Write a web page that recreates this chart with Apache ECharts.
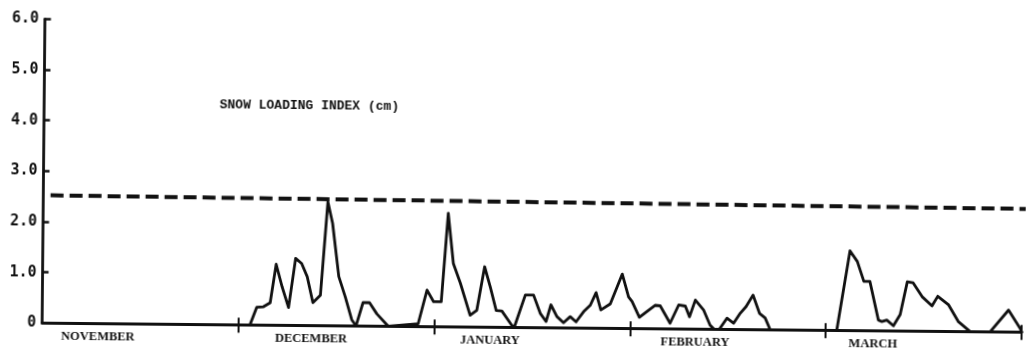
<!DOCTYPE html>
<html>
<head>
<meta charset="utf-8">
<script src="https://cdn.jsdelivr.net/npm/echarts@6/dist/echarts.min.js"></script>
<style>
  html, body { margin: 0; padding: 0; background: #fff; }
  /* the plotted sheet sits slightly askew on the page */
  #chart { width: 1027px; height: 352px; transform: rotate(0.53deg); transform-origin: 50% 50%; }
</style>
</head>
<body>
<div id="chart"></div>
<script>
// Time axis runs in months from 1 November (0) to 31 March (5).
const monthNames = ['NOVEMBER', 'DECEMBER', 'JANUARY', 'FEBRUARY', 'MARCH'];
const monthLabelPos = [0.285, 1.373, 2.286, 3.333, 4.241];
const monthTicks = [1, 2, 3, 4, 5];

// Snow loading index (cm)
const loadT = [
  0, 1.061, 1.095, 1.129, 1.163, 1.192, 1.223, 1.257, 1.291, 1.322, 1.351, 1.381,
  1.419, 1.453, 1.478, 1.512, 1.546, 1.580, 1.602, 1.637, 1.670, 1.708, 1.766,
  1.919, 1.963, 1.997, 2.036, 2.068, 2.096, 2.133, 2.184, 2.218, 2.256, 2.286,
  2.317, 2.346, 2.397, 2.410, 2.465, 2.507, 2.542, 2.572, 2.596, 2.627, 2.661,
  2.695, 2.725, 2.763, 2.797, 2.826, 2.851, 2.899, 2.959, 2.992, 3.010, 3.048,
  3.094, 3.129, 3.154, 3.205, 3.248, 3.282, 3.304, 3.333, 3.375, 3.409, 3.430,
  3.457, 3.495, 3.529, 3.563, 3.592, 3.627, 3.661, 3.690, 3.716, 4.056, 4.120,
  4.158, 4.192, 4.223, 4.268, 4.286, 4.311, 4.345, 4.379, 4.414, 4.444, 4.490,
  4.541, 4.570, 4.626, 4.677, 4.737, 4.839, 4.932, 4.992, 5.0
];
const loadV = [
  0, 0, 0.35, 0.36, 0.44, 1.20, 0.76, 0.35, 1.32, 1.22, 0.96, 0.45,
  0.60, 2.44, 2.02, 0.97, 0.57, 0.12, 0.0, 0.46, 0.46, 0.24, 0.0,
  0.05, 0.72, 0.49, 0.49, 2.24, 1.25, 0.86, 0.23, 0.33, 1.19, 0.79,
  0.33, 0.32, 0.04, 0.0, 0.64, 0.64, 0.28, 0.12, 0.45, 0.22, 0.10,
  0.22, 0.12, 0.32, 0.45, 0.70, 0.36, 0.48, 1.07, 0.62, 0.53, 0.22,
  0.36, 0.46, 0.45, 0.11, 0.47, 0.45, 0.24, 0.57, 0.38, 0.08, 0.0,
  0.0, 0.22, 0.12, 0.32, 0.45, 0.68, 0.32, 0.23, 0.0, 0.0, 1.57,
  1.36, 0.97, 0.97, 0.21, 0.18, 0.21, 0.10, 0.32, 0.97, 0.95, 0.68,
  0.50, 0.69, 0.52, 0.19, 0.0, 0.0, 0.43, 0.07, 0.0
];

// Dashed reference level
const levelT = [0.037, 5.02];
const levelV = [2.52, 2.43];

const yMin = 0, yMax = 6, yStep = 1;

const pairs = (xs, ys) => xs.map((x, i) => [x, ys[i]]);

const chart = echarts.init(document.getElementById('chart'), null, { renderer: 'canvas' });

const ink = '#111';
const baseX = {
  type: 'value', min: 0, max: 5, position: 'bottom',
  splitLine: { show: false }
};

chart.setOption({
  animation: false,
  backgroundColor: '#fff',
  grid: { left: 43.5, right: 3.9, top: 23.3, bottom: 24.7, containLabel: false },
  title: {
    text: 'SNOW LOADING INDEX (cm)',
    left: 214, top: 96,
    textStyle: { fontFamily: 'Liberation Mono', fontWeight: 'bold', fontSize: 13, color: ink }
  },
  xAxis: [
    Object.assign({}, baseX, {
      axisLine: { show: true, lineStyle: { color: ink, width: 2.8 } },
      axisTick: { show: true, inside: false, length: 8, customValues: monthTicks, lineStyle: { color: ink, width: 2 } },
      axisLabel: {
        show: true, customValues: monthLabelPos, margin: 7,
        fontFamily: 'Liberation Serif', fontWeight: 'bold', fontSize: 12.5, color: ink,
        formatter: v => monthNames[monthLabelPos.indexOf(v)] || ''
      }
    }),
    Object.assign({}, baseX, {
      axisLine: { show: false },
      axisTick: { show: true, inside: true, length: 7, customValues: monthTicks, lineStyle: { color: ink, width: 2 } },
      axisLabel: { show: false }
    })
  ],
  yAxis: {
    type: 'value', min: yMin, max: yMax, interval: yStep,
    axisLine: { show: true, lineStyle: { color: ink, width: 2.8 } },
    axisTick: { show: true, inside: true, length: 6, lineStyle: { color: ink, width: 2.5 } },
    splitLine: { show: false },
    axisLabel: {
      margin: 6, color: ink,
      fontFamily: 'DejaVu Sans Mono', fontWeight: 'bold', fontSize: 15,
      formatter: v => '{n|' + (v === 0 ? '0' : v.toFixed(1)) + '}',
      rich: {
        n: { width: 30, align: 'right', fontFamily: 'DejaVu Sans Mono', fontWeight: 'bold', fontSize: 15, color: ink }
      }
    }
  },
  series: [
    {
      type: 'line', name: 'level', data: pairs(levelT, levelV),
      symbol: 'none', clip: false,
      lineStyle: { color: ink, width: 4, type: [13, 6] }
    },
    {
      type: 'line', name: 'snow loading', data: pairs(loadT, loadV),
      symbol: 'none',
      lineStyle: { color: ink, width: 2.8, join: 'round', cap: 'round' }
    }
  ]
});
</script>
</body>
</html>
